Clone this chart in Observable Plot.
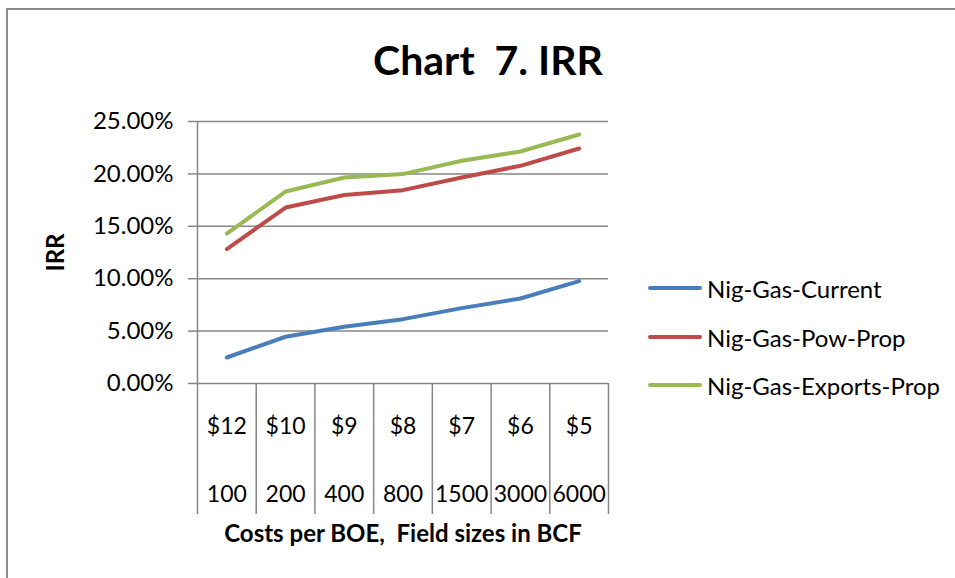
<!DOCTYPE html>
<html>
<head>
<meta charset="utf-8">
<script src="https://cdn.jsdelivr.net/npm/d3@7"></script>
<script src="https://cdn.jsdelivr.net/npm/@observablehq/plot@0.6"></script>
<style>
  html, body { margin: 0; padding: 0; background: #fff; }
  #wrap { position: relative; width: 955px; height: 578px; overflow: hidden; font-family: Lato, sans-serif; }
  #border { position: absolute; left: 6px; top: 8px; width: 960px; height: 600px; border-left: 2px solid #8c8c8c; border-top: 2px solid #8c8c8c; box-sizing: border-box; }
  #chart { position: absolute; left: 0; top: 0; }
  #legend { position: absolute; left: 648px; top: 0; }
  .lg { position: absolute; left: 0; display: flex; align-items: center; white-space: nowrap; font-size: 24px; color: #000; }
  .lg .sw { width: 54px; height: 4px; border-radius: 2px; margin-right: 5px; }
</style>
</head>
<body>
<div id="wrap">
  <div id="border"></div>
  <div id="chart"></div>
  <div id="legend"></div>
</div>
<script>
const title = "Chart  7. IRR";
const xTitle = "Costs per BOE,  Field sizes in BCF";
const yTitle = "IRR";
const costs = ["$12", "$10", "$9", "$8", "$7", "$6", "$5"];
const sizes = ["100", "200", "400", "800", "1500", "3000", "6000"];
const seriesNames = ["Nig-Gas-Current", "Nig-Gas-Pow-Prop", "Nig-Gas-Exports-Prop"];
const seriesColors = ["#4A7EBB", "#BE4B48", "#98B954"];
const current = [2.48, 4.46, 5.41, 6.14, 7.19, 8.11, 9.77];
const powProp = [12.82, 16.79, 17.98, 18.45, 19.66, 20.77, 22.42];
const exportsProp = [14.31, 18.32, 19.66, 19.98, 21.25, 22.14, 23.76];
const yTicks = [0, 5, 10, 15, 20, 25];

const seriesValues = [current, powProp, exportsProp];
const rows = [];
seriesValues.forEach((vals, s) => vals.forEach((v, i) => rows.push({i, v, s: seriesNames[s]})));
const cats = costs.map((c, i) => ({i, c, n: sizes[i]}));
const bounds = d3.range(costs.length + 1);

const gray = "#868686";
const fs = 24;

const plot = Plot.plot({
  width: 955,
  height: 578,
  marginLeft: 197,
  marginRight: 347,
  marginTop: 121,
  marginBottom: 195,
  style: {fontFamily: "Lato, sans-serif", fontSize: fs + "px", color: "#000", background: "transparent"},
  x: {type: "linear", domain: [0, costs.length]},
  y: {domain: [0, 25]},
  color: {domain: seriesNames, range: seriesColors},
  marks: [
    Plot.gridY(yTicks, {stroke: gray, strokeOpacity: 1, strokeWidth: 1.5}),
    Plot.ruleX([0], {stroke: gray, strokeWidth: 1.5}),
    Plot.axisY({ticks: yTicks, tickSize: 9, tickPadding: 15, tickFormat: d => d.toFixed(2) + "%", stroke: gray, strokeWidth: 1.5, label: null, fontSize: fs}),
    Plot.axisX({ticks: bounds, tickSize: 131, tickFormat: () => "", stroke: gray, strokeWidth: 1.5, label: null}),
    Plot.text(cats, {x: d => d.i + 0.5, text: "c", frameAnchor: "bottom", lineAnchor: "middle", dy: 43, fontSize: 23}),
    Plot.text(cats, {x: d => d.i + 0.5, text: "n", frameAnchor: "bottom", lineAnchor: "middle", dy: 111, fontSize: 23}),
    Plot.text([xTitle], {frameAnchor: "bottom", dy: 151, fontSize: 24, fontWeight: "bold", text: d => d, lineAnchor: "middle"}),
    Plot.text([yTitle], {frameAnchor: "left", dx: -141, rotate: -90, textAnchor: "middle", lineAnchor: "middle", fontSize: 24, fontWeight: "bold", text: d => d}),
    Plot.text([title], {frameAnchor: "top", lineAnchor: "middle", dx: 85, dy: -60, fontSize: 41, fontWeight: "bold", text: d => d}),
    Plot.line(rows, {x: d => d.i + 0.5, y: "v", z: "s", stroke: "s", strokeWidth: 4, strokeLinecap: "round", strokeLinejoin: "round"})
  ]
});
plot.querySelectorAll("text").forEach(t => t.setAttribute("xml:space", "preserve"));
plot.querySelectorAll("text").forEach(t => t.style.whiteSpace = "pre");
document.getElementById("chart").appendChild(plot);

const legendY = [288, 337, 385];
const legend = document.getElementById("legend");
seriesNames.forEach((name, k) => {
  const row = document.createElement("div");
  row.className = "lg";
  row.style.top = (legendY[k] - 15) + "px";
  row.style.height = "30px";
  const sw = document.createElement("div");
  sw.className = "sw";
  sw.style.background = seriesColors[k];
  const tx = document.createElement("span");
  tx.textContent = name;
  row.appendChild(sw);
  row.appendChild(tx);
  legend.appendChild(row);
});
</script>
</body>
</html>
